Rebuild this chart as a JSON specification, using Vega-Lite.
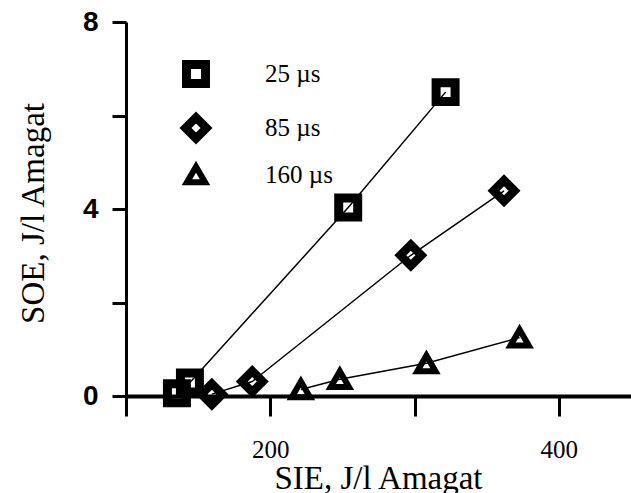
{
  "$schema": "https://vega.github.io/schema/vega-lite/v6.json",
  "width": 505,
  "height": 374,
  "autosize": {"type": "none"},
  "padding": {"left": 126, "top": 22, "right": 0, "bottom": 97},
  "background": "white",
  "config": {"view": {"stroke": null}},
  "data": {
    "values": [
      {"series": "25 µs", "sie": 135.3, "soe": 0.06},
      {"series": "25 µs", "sie": 144.3, "soe": 0.29},
      {"series": "25 µs", "sie": 254.0, "soe": 4.03},
      {"series": "25 µs", "sie": 321.5, "soe": 6.5},
      {"series": "85 µs", "sie": 159.5, "soe": 0.04},
      {"series": "85 µs", "sie": 187.5, "soe": 0.31},
      {"series": "85 µs", "sie": 297.4, "soe": 3.01},
      {"series": "85 µs", "sie": 362.0, "soe": 4.39},
      {"series": "160 µs", "sie": 221.2, "soe": 0.14},
      {"series": "160 µs", "sie": 248.2, "soe": 0.36},
      {"series": "160 µs", "sie": 308.2, "soe": 0.70},
      {"series": "160 µs", "sie": 372.8, "soe": 1.25}
    ]
  },
  "encoding": {
    "x": {
      "field": "sie", "type": "quantitative",
      "scale": {"domain": [100, 450], "nice": false, "zero": false},
      "axis": {
        "values": [100, 200, 300, 400],
        "labelExpr": "datum.value == 200 || datum.value == 400 ? datum.label : ''",
        "grid": false,
        "domainColor": "black", "domainWidth": 4,
        "tickColor": "black", "tickWidth": 3, "tickSize": 20,
        "labelFont": "Liberation Serif", "labelFontSize": 25, "labelColor": "black",
        "labelBaseline": "alphabetic", "labelPadding": 41,
        "title": "SIE, J/l Amagat",
        "titleFont": "Liberation Serif", "titleFontSize": 33, "titleFontWeight": "normal", "titleColor": "black",
        "titleX": 252, "titleY": 92, "titleBaseline": "alphabetic", "titleAlign": "center"
      }
    },
    "y": {
      "field": "soe", "type": "quantitative",
      "scale": {"domain": [0, 8], "nice": false},
      "axis": {
        "values": [0, 2, 4, 6, 8],
        "labelExpr": "datum.value % 4 == 0 ? datum.label : ''",
        "grid": false,
        "domainColor": "black", "domainWidth": 3,
        "tickColor": "black", "tickWidth": 3, "tickSize": 14,
        "labelFont": "Liberation Sans", "labelFontSize": 28, "labelFontWeight": "bold", "labelColor": "black",
        "labelPadding": 14,
        "title": "SOE, J/l Amagat",
        "titleFont": "Liberation Serif", "titleFontSize": 33, "titleFontWeight": "normal", "titleColor": "black",
        "titleAngle": -90, "titleX": -83, "titleY": 191, "titleBaseline": "alphabetic", "titleAlign": "center"
      }
    }
  },
  "layer": [
    {
      "mark": {"type": "line", "color": "black", "strokeWidth": 1.5},
      "encoding": {"detail": {"field": "series"}}
    },
    {
      "mark": {"type": "point", "filled": false, "color": "black", "opacity": 1},
      "encoding": {
        "shape": {
          "field": "series", "type": "nominal",
          "scale": {"domain": ["25 µs", "85 µs", "160 µs"], "range": ["square", "diamond", "triangle-up"]},
          "legend": {
            "orient": "none", "legendX": 55, "legendY": 38, "title": null,
            "labelFont": "Liberation Serif", "labelFontSize": 25, "labelColor": "black",
            "labelOffset": 54, "rowPadding": -2, "symbolStrokeColor": "black", "symbolStrokeWidth": 7
          }
        },
        "size": {
          "field": "series", "type": "nominal",
          "scale": {"type": "ordinal", "domain": ["25 µs", "85 µs", "160 µs"], "range": [360, 440, 330]}
        },
        "strokeWidth": {
          "field": "series", "type": "nominal",
          "scale": {"type": "ordinal", "domain": ["25 µs", "85 µs", "160 µs"], "range": [9, 8.5, 6]}
        }
      }
    }
  ]
}
